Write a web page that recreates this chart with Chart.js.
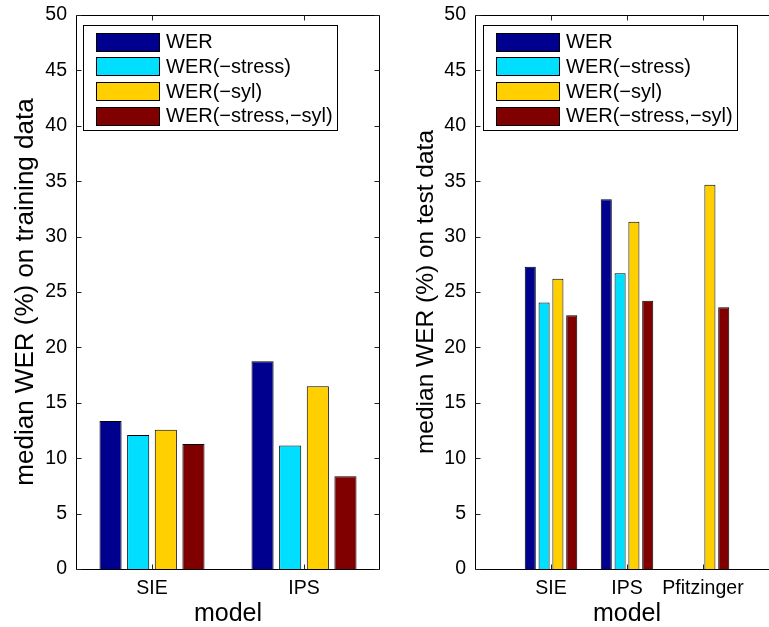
<!DOCTYPE html>
<html><head><meta charset="utf-8">
<script src="https://cdn.jsdelivr.net/npm/chart.js@4/dist/chart.umd.min.js"></script>
<style>
html,body{margin:0;padding:0;background:#fff;overflow:hidden;width:769px;height:627px;position:relative;}
#c1{position:absolute;left:0;top:0;}
#c2{position:absolute;left:390px;top:0;}
</style></head><body>
<canvas id="c1" width="400" height="627"></canvas>
<canvas id="c2" width="420" height="627"></canvas>
<script>
// ---- data ----
const seriesNames = ['WER', 'WER(\u2212stress)', 'WER(\u2212syl)', 'WER(\u2212stress,\u2212syl)'];
const seriesColors = ['#00008f', '#00dfff', '#ffcf00', '#800000'];

const trainCategories = ['SIE', 'IPS'];
const trainWER = [13.36, 18.74];
const trainWERnoStress = [12.09, 11.15];
const trainWERnoSyl = [12.57, 16.5];
const trainWERnoBoth = [11.28, 8.38];

const testCategories = ['', 'SIE', 'IPS', 'Pfitzinger', ''];
const testWER = [null, 27.27, 33.38, 0, null];
const testWERnoStress = [null, 24.06, 26.7, 0, null];
const testWERnoSyl = [null, 26.19, 31.33, 34.67, null];
const testWERnoBoth = [null, 22.91, 24.2, 23.63, null];

const yMin = 0, yMax = 50, yStep = 5;
const xTitle = 'model';
const yTitleTrain = 'median WER (%) on training data';
const yTitleTest = 'median WER (%) on test data';

const FONT = "'Liberation Sans', Arial, Helvetica, sans-serif";

const framePlugin = {
  id: 'frame',
  afterDatasetsDraw(chart, args, opts) {
    const {ctx, chartArea: a, scales: {x, y}} = chart;
    ctx.save();
    ctx.strokeStyle = '#000';
    ctx.lineWidth = 1;
    const L = Math.round(a.left) + 0.5, R = Math.round(a.right) - 0.5;
    const T = Math.round(a.top) + 0.5, B = Math.round(a.bottom) + 0.5;
    ctx.beginPath();
    ctx.moveTo(L, T); ctx.lineTo(R, T); ctx.lineTo(R, B); ctx.lineTo(L, B); ctx.closePath();
    ctx.stroke();
    ctx.strokeStyle = '#222';
    ctx.beginPath();
    const tl = 5;
    y.ticks.forEach((t, i) => {
      const py = Math.round(y.getPixelForTick(i)) + 0.5;
      ctx.moveTo(L, py); ctx.lineTo(L + tl, py);
      ctx.moveTo(R, py); ctx.lineTo(R - tl, py);
    });
    x.ticks.forEach((t, i) => {
      if (!chart.data.labels[t.value]) return;
      const px = Math.round(x.getPixelForTick(i)) + 0.5;
      ctx.moveTo(px, B); ctx.lineTo(px, B - tl);
      ctx.moveTo(px, T); ctx.lineTo(px, T + tl);
    });
    ctx.stroke();

    // legend inside the axes
    const lx = a.left + opts.dx, ly = a.top + 10;
    const bw = 254, bh = 105;
    ctx.fillStyle = '#fff';
    ctx.fillRect(Math.round(lx) + 0.5, Math.round(ly) + 0.5, bw, bh);
    ctx.strokeStyle = '#000';
    ctx.strokeRect(Math.round(lx) + 0.5, Math.round(ly) + 0.5, bw, bh);
    ctx.font = '20px ' + FONT;
    ctx.textBaseline = 'middle';
    ctx.textAlign = 'left';
    chart.data.datasets.forEach((ds, i) => {
      const cy = ly + 16.5 + i * 24.8;
      const sx = Math.round(lx + 13) + 0.5, sy = Math.round(cy - 9) + 0.5;
      ctx.fillStyle = ds.backgroundColor;
      ctx.fillRect(sx, sy, 63, 18);
      ctx.strokeStyle = '#000';
      ctx.strokeRect(sx, sy, 63, 18);
      ctx.fillStyle = '#000';
      ctx.fillText(ds.label, lx + 83, cy + 1);
    });
    ctx.restore();
  }
};

function makeDatasets(arrs) {
  return arrs.map((d, i) => ({
    label: seriesNames[i],
    data: d,
    backgroundColor: seriesColors[i],
    borderColor: '#000',
    borderWidth: 1,
    borderSkipped: 'start',
    categoryPercentage: 4 / 5.5,
    barPercentage: 0.8
  }));
}

function makeChart(id, labels, arrs, o) {
  return new Chart(document.getElementById(id), {
    type: 'bar',
    data: { labels: labels, datasets: makeDatasets(arrs) },
    plugins: [framePlugin],
    options: {
      responsive: false,
      animation: false,
      devicePixelRatio: 1,
      layout: { padding: { left: 0, top: 15, right: o.padRight, bottom: 0 } },
      plugins: {
        legend: { display: false },
        tooltip: { enabled: false },
        frame: { dx: o.legendDx }
      },
      scales: {
        x: {
          type: 'category',
          offset: o.offset,
          grid: { display: false, drawTicks: false },
          border: { display: false },
          ticks: { font: { family: FONT, size: 19.5 }, color: '#000', padding: 8, autoSkip: false, maxRotation: 0 },
          title: { display: true, text: xTitle, color: '#000', font: { family: FONT, size: 25, lineHeight: 1 }, padding: { top: 0, bottom: 0 } },
          afterFit(s) { s.height = 58; }
        },
        y: {
          min: yMin, max: yMax,
          grid: { display: false, drawTicks: false },
          border: { display: false },
          ticks: { stepSize: yStep, font: { family: FONT, size: 19.5, lineHeight: 0.5 }, color: '#000', padding: 9 },
          title: { display: true, text: o.yTitle, color: '#000', font: { family: FONT, size: o.titleSize, lineHeight: 1 }, padding: { top: o.titlePad, bottom: 0 } },
          afterFit(s) { s.width = o.yWidth; }
        }
      }
    }
  });
}

makeChart('c1', trainCategories, [trainWER, trainWERnoStress, trainWERnoSyl, trainWERnoBoth],
  { offset: true, padRight: 20, yWidth: 76, titlePad: 13, titleSize: 26, yTitle: yTitleTrain, legendDx: 7 });
makeChart('c2', testCategories, [testWER, testWERnoStress, testWERnoSyl, testWERnoBoth],
  { offset: false, padRight: 31, yWidth: 85, titlePad: 23.5, titleSize: 24.5, yTitle: yTitleTest, legendDx: 8 });
</script>
</body></html>
